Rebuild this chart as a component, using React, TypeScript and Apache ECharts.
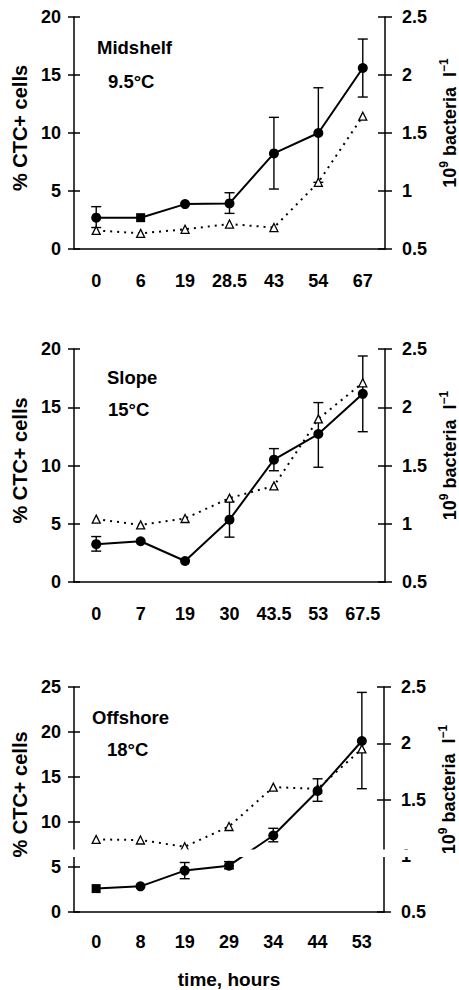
import React, { useEffect, useRef } from 'react';
import * as echarts from 'echarts';

// ---------- data ----------
const midshelfTimes = ['0', '6', '19', '28.5', '43', '54', '67'];
const midshelfCTC = [2.7, 2.7, 3.87, 3.93, 8.24, 10.0, 15.6];
const midshelfErr = [[0, 1.85, 3.65], [3, 3.07, 4.85], [4, 5.17, 11.35], [5, 5.75, 13.9], [6, 13.1, 18.1]];
const midshelfBact = [0.66, 0.635, 0.67, 0.715, 0.685, 1.075, 1.645];

const slopeTimes = ['0', '7', '19', '30', '43.5', '53', '67.5'];
const slopeCTC = [3.25, 3.5, 1.8, 5.35, 10.5, 12.7, 16.15];
const slopeErr = [[0, 2.65, 3.9], [3, 3.85, 6.9], [4, 9.55, 11.45], [5, 9.85, 15.4], [6, 12.9, 19.4]];
const slopeBact = [1.04, 0.99, 1.045, 1.22, 1.325, 1.9, 2.21];

const offshoreTimes = ['0', '8', '19', '29', '34', '44', '53'];
const offshoreCTC = [2.6, 2.85, 4.6, 5.15, 8.5, 13.45, 19.0];
const offshoreErr = [[2, 3.7, 5.5], [3, 4.8, 5.6], [4, 7.8, 9.3], [5, 12.3, 14.8], [6, 13.7, 24.4]];
const offshoreBact = [1.145, 1.14, 1.08, 1.26, 1.61, 1.595, 1.95];

const panelNames = ['Midshelf', 'Slope', 'Offshore'];
const panelTemps = ['9.5°C', '15°C', '18°C'];
const leftMax = [20, 20, 25];
const squareMarkers = [[1], [], [0]];

const FONT = 'Liberation Sans';

export default function App() {
  const ref = useRef<HTMLDivElement>(null);
  useEffect(() => {
    document.body.style.margin = '0';
    const chart = echarts.init(ref.current!, null, { renderer: 'svg' });

    const grids = [
      { left: 74, top: 17, width: 311, height: 232, outerBoundsMode: 'none', containLabel: false },
      { left: 74, top: 349, width: 311, height: 233, outerBoundsMode: 'none', containLabel: false },
      { left: 74, top: 687, width: 310, height: 225, outerBoundsMode: 'none', containLabel: false },
    ];
    const times = [midshelfTimes, slopeTimes, offshoreTimes];
    const ctc = [midshelfCTC, slopeCTC, offshoreCTC];
    const errs = [midshelfErr, slopeErr, offshoreErr];
    const bact = [midshelfBact, slopeBact, offshoreBact];
    const labelMargins = [23, 23, 21];
    const namePos = [[97, 37.5], [107, 367.6], [92, 707.6]];
    const tempPos = [[108, 71.6], [108, 399.6], [107, 739.6]];

    const lbl = { fontFamily: FONT, fontWeight: 'bold' as const, fontSize: 18, color: '#000' };
    const line = { color: '#000', width: 1.5 };

    const xAxis: any[] = [];
    const yAxis: any[] = [];
    const series: any[] = [];
    const graphic: any[] = [];

    for (let p = 0; p < 3; p++) {
      xAxis.push({
        gridIndex: p, type: 'category', data: times[p], position: 'bottom', boundaryGap: true,
        axisLine: { lineStyle: line }, axisTick: { inside: false, length: 5, lineStyle: line },
        axisLabel: { ...lbl, margin: labelMargins[p], interval: 0 },
        splitLine: { show: false },
        ...(p === 2 ? {
          name: 'time, hours', nameLocation: 'middle', nameGap: 58,
          nameTextStyle: { fontFamily: FONT, fontWeight: 'bold', fontSize: 19, color: '#000' },
        } : {}),
      });
      xAxis.push({
        gridIndex: p, type: 'category', data: times[p], position: 'bottom', boundaryGap: true,
        axisLine: { show: false }, axisTick: { inside: true, length: 6, lineStyle: line },
        axisLabel: { show: false }, splitLine: { show: false },
      });
      yAxis.push({
        gridIndex: p, type: 'value', position: 'left', min: 0, max: leftMax[p], interval: 5,
        axisLine: { show: true, lineStyle: line }, axisTick: { show: true, inside: false, length: 6, lineStyle: line },
        axisLabel: { ...lbl, margin: 13 }, splitLine: { show: false },
        name: '% CTC+ cells', nameLocation: 'middle', nameGap: 42, nameRotate: 90,
        nameTextStyle: { fontFamily: FONT, fontWeight: 'bold', fontSize: 20, color: '#000', padding: [0, 0, 0, 10] },
      });
      yAxis.push({
        gridIndex: p, type: 'value', position: 'left', min: 0, max: leftMax[p], interval: 5,
        axisLine: { show: false }, axisTick: { show: true, inside: true, length: 6, lineStyle: line },
        axisLabel: { show: false }, splitLine: { show: false },
      });
      yAxis.push({
        gridIndex: p, type: 'value', position: 'right', min: 0.5, max: 2.5, interval: 0.5,
        axisLine: { show: true, lineStyle: line }, axisTick: { show: true, inside: false, length: 7, lineStyle: line },
        axisLabel: { ...lbl, margin: 17 }, splitLine: { show: false },
        name: '{a|10}{s|9}{a| bacteria  l}{s|−1}', nameLocation: 'middle', nameGap: 51, nameRotate: 90,
        nameTextStyle: {
          fontFamily: FONT, fontWeight: 'bold', fontSize: 18, color: '#000', padding: [0, 0, 0, 20],
          rich: {
            a: { fontFamily: FONT, fontWeight: 'bold', fontSize: 18, color: '#000', verticalAlign: 'bottom', lineHeight: 21 },
            s: { fontFamily: FONT, fontWeight: 'bold', fontSize: 12, color: '#000', verticalAlign: 'top', lineHeight: 21 },
          },
        },
      });
      yAxis.push({
        gridIndex: p, type: 'value', position: 'right', min: 0.5, max: 2.5, interval: 0.5,
        axisLine: { show: false }, axisTick: { show: true, inside: true, length: 7, lineStyle: line },
        axisLabel: { show: false }, splitLine: { show: false },
      });

      series.push({
        type: 'custom', xAxisIndex: 2 * p, yAxisIndex: 4 * p, z: 1,
        data: errs[p], encode: { x: 0, y: [1, 2] },
        renderItem: (params: any, api: any) => {
          const lo = api.coord([api.value(0), api.value(1)]);
          const hi = api.coord([api.value(0), api.value(2)]);
          const w = 5;
          const st = { stroke: '#000', lineWidth: 1.4 };
          return {
            type: 'group', children: [
              { type: 'line', shape: { x1: lo[0], y1: lo[1], x2: hi[0], y2: hi[1] }, style: st },
              { type: 'line', shape: { x1: lo[0] - w, y1: lo[1], x2: lo[0] + w, y2: lo[1] }, style: st },
              { type: 'line', shape: { x1: hi[0] - w, y1: hi[1], x2: hi[0] + w, y2: hi[1] }, style: st },
            ],
          };
        },
      });
      series.push({
        type: 'line', xAxisIndex: 2 * p, yAxisIndex: 4 * p + 2, z: 2,
        data: bact[p], symbol: 'triangle', symbolSize: 8, showSymbol: true,
        itemStyle: { color: '#fff', borderColor: '#000', borderWidth: 1.3 },
        lineStyle: { color: '#000', width: 2, type: [2, 5] },
      });
      series.push({
        type: 'line', xAxisIndex: 2 * p, yAxisIndex: 4 * p, z: 3,
        data: ctc[p].map((v, i) => squareMarkers[p].includes(i) ? { value: v, symbol: 'rect', symbolSize: 9 } : v),
        symbol: 'circle', symbolSize: 10, showSymbol: true,
        itemStyle: { color: '#000' },
        lineStyle: { color: '#000', width: 2 },
      });

      graphic.push({
        type: 'text', left: namePos[p][0], top: namePos[p][1],
        style: { text: panelNames[p], font: `bold 18.5px "${FONT}"`, fill: '#000' },
      });
      graphic.push({
        type: 'text', left: tempPos[p][0], top: tempPos[p][1],
        style: { text: panelTemps[p], font: `bold 18.5px "${FONT}"`, fill: '#000' },
      });
    }

    // white scan band across the offshore panel
    graphic.push({
      type: 'rect', left: 60, top: 849.5, z: 100,
      shape: { width: 356, height: 7.5 },
      style: { fill: '#fff' },
    });

    chart.setOption({
      animation: false,
      backgroundColor: '#fff',
      grid: grids,
      xAxis, yAxis, series, graphic,
    });
    return () => chart.dispose();
  }, []);
  return <div ref={ref} style={{ width: 459, height: 990 }} />;
}
